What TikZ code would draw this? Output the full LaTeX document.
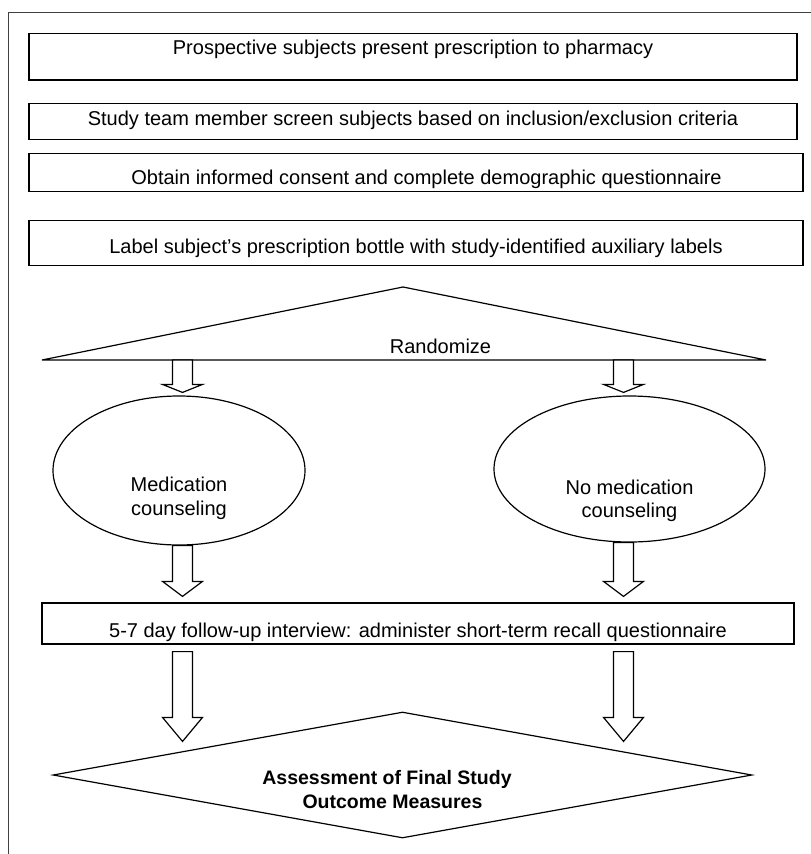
\documentclass[tikz,border=0pt]{standalone}
\usepackage{fontspec}
\setmainfont{Liberation Sans}
\usetikzlibrary{shapes.geometric,calc}

\tikzset{
	stepbox/.style={draw, rectangle, line width=1.2pt, inner sep=0pt, text height=15pt, text depth=4pt},
	armoval/.style={draw, ellipse, line width=1.2pt, inner sep=0pt, align=center},
	fatline/.style={draw, line width=1.2pt, fill=white, line join=miter},
}

% hollow block arrow: head length, shaft top, tip
\newcommand{\fatarrow}[3]{%
	\draw[fatline] ($(#2)+(-10,0)$) -- ($(#3)+(-10,-#1)$) -- ($(#3)+(-20,-#1)$) -- (#3)
		-- ($(#3)+(20,-#1)$) -- ($(#3)+(10,-#1)$) -- ($(#2)+(10,0)$) -- cycle;}

\begin{document}
\begin{tikzpicture}[x=1pt, y=-1pt, font=\fontsize{20}{23.5}\selectfont]
	\useasboundingbox (0,0) rectangle (811,854);
	
	%outer frame
	\draw[line width=1pt, black!75] (8,854) -- (8,12) -- (811,12);
	
	%recruitment steps
	\node[stepbox, minimum width=768pt, minimum height=46.7pt, text depth=20pt] (prosp) at (413,56.7) {Prospective subjects present prescription to pharmacy};
	\node[stepbox, minimum width=768pt, minimum height=36pt, text depth=7pt] (screen) at (413,121.3) {Study team member screen subjects based on inclusion/exclusion criteria};
	\node[stepbox, minimum width=774pt, minimum height=38.4pt, text height=28.4pt] (consent) at (416,172.5) {\hspace*{21pt}Obtain informed consent and complete demographic questionnaire};
	\node[stepbox, minimum width=774pt, minimum height=45pt, text height=25pt] (label) at (416,243.2) {Label subject’s prescription bottle with study-identified auxiliary labels};
	
	%randomization
	\coordinate (triL) at (42,360);
	\coordinate (triT) at (403,287);
	\coordinate (triR) at (766,360);
	\draw[line width=1.2pt] (triL) -- (triT) -- (triR) -- cycle;
	\node (rand) at (440.5,346.5) {Randomize};
	
	%study arms
	\node[armoval, minimum width=252pt, minimum height=149pt, text height=89.5pt, text depth=0pt] (med) at (179,470.5) {Medication\\counseling};
	\node[armoval, minimum width=271pt, minimum height=146pt, text height=97.5pt, text depth=0pt] (nomed) at (629.5,469) {No medication\\counseling};
	
	%follow-up and outcome
	\node[stepbox, minimum width=752pt, minimum height=41pt, text height=31pt] (follow) at (418,623.5) {5-7 day follow-up interview: administer short-term recall questionnaire};
	\node[draw, diamond, aspect=5.5, line width=1.2pt, inner sep=0pt, align=center, minimum width=699pt, minimum height=126pt,
		font=\fontsize{19.5}{23.3}\selectfont\bfseries, text height=66.3pt, text depth=0pt] (assess) at (402.5,775)
		{Assessment of Final Study\hspace*{31pt}\\Outcome Measures\hspace*{20pt}};
	
	%arrow columns and ends
	\coordinate (colL) at (182.5,0);
	\coordinate (colR) at (623.5,0);
	\coordinate (randL) at (colL |- triL);
	\coordinate (randR) at (colR |- triR);
	\coordinate (medTop) at ($(med.north -| colL)+(0,-3)$);
	\coordinate (nomedTop) at ($(nomed.north -| colR)+(0,-3)$);
	\coordinate (medBot) at (med.south -| colL);
	\coordinate (nomedBot) at (nomed.south -| colR);
	\coordinate (followL) at ($(follow.north -| colL)+(0,-6)$);
	\coordinate (followR) at ($(follow.north -| colR)+(0,-6)$);
	\coordinate (outL) at ($(follow.south -| colL)+(0,7)$);
	\coordinate (outR) at ($(follow.south -| colR)+(0,7)$);
	\coordinate (assessL) at ($(assess.north -| colL)+(0,30)$);
	\coordinate (assessR) at ($(assess.north -| colR)+(0,30)$);
	
	\fatarrow{8}{randL}{medTop}
	\fatarrow{8}{randR}{nomedTop}
	\fatarrow{15}{medBot}{followL}
	\fatarrow{15}{nomedBot}{followR}
	\fatarrow{24}{outL}{assessL}
	\fatarrow{24}{outR}{assessR}
	
\end{tikzpicture}
\end{document}
